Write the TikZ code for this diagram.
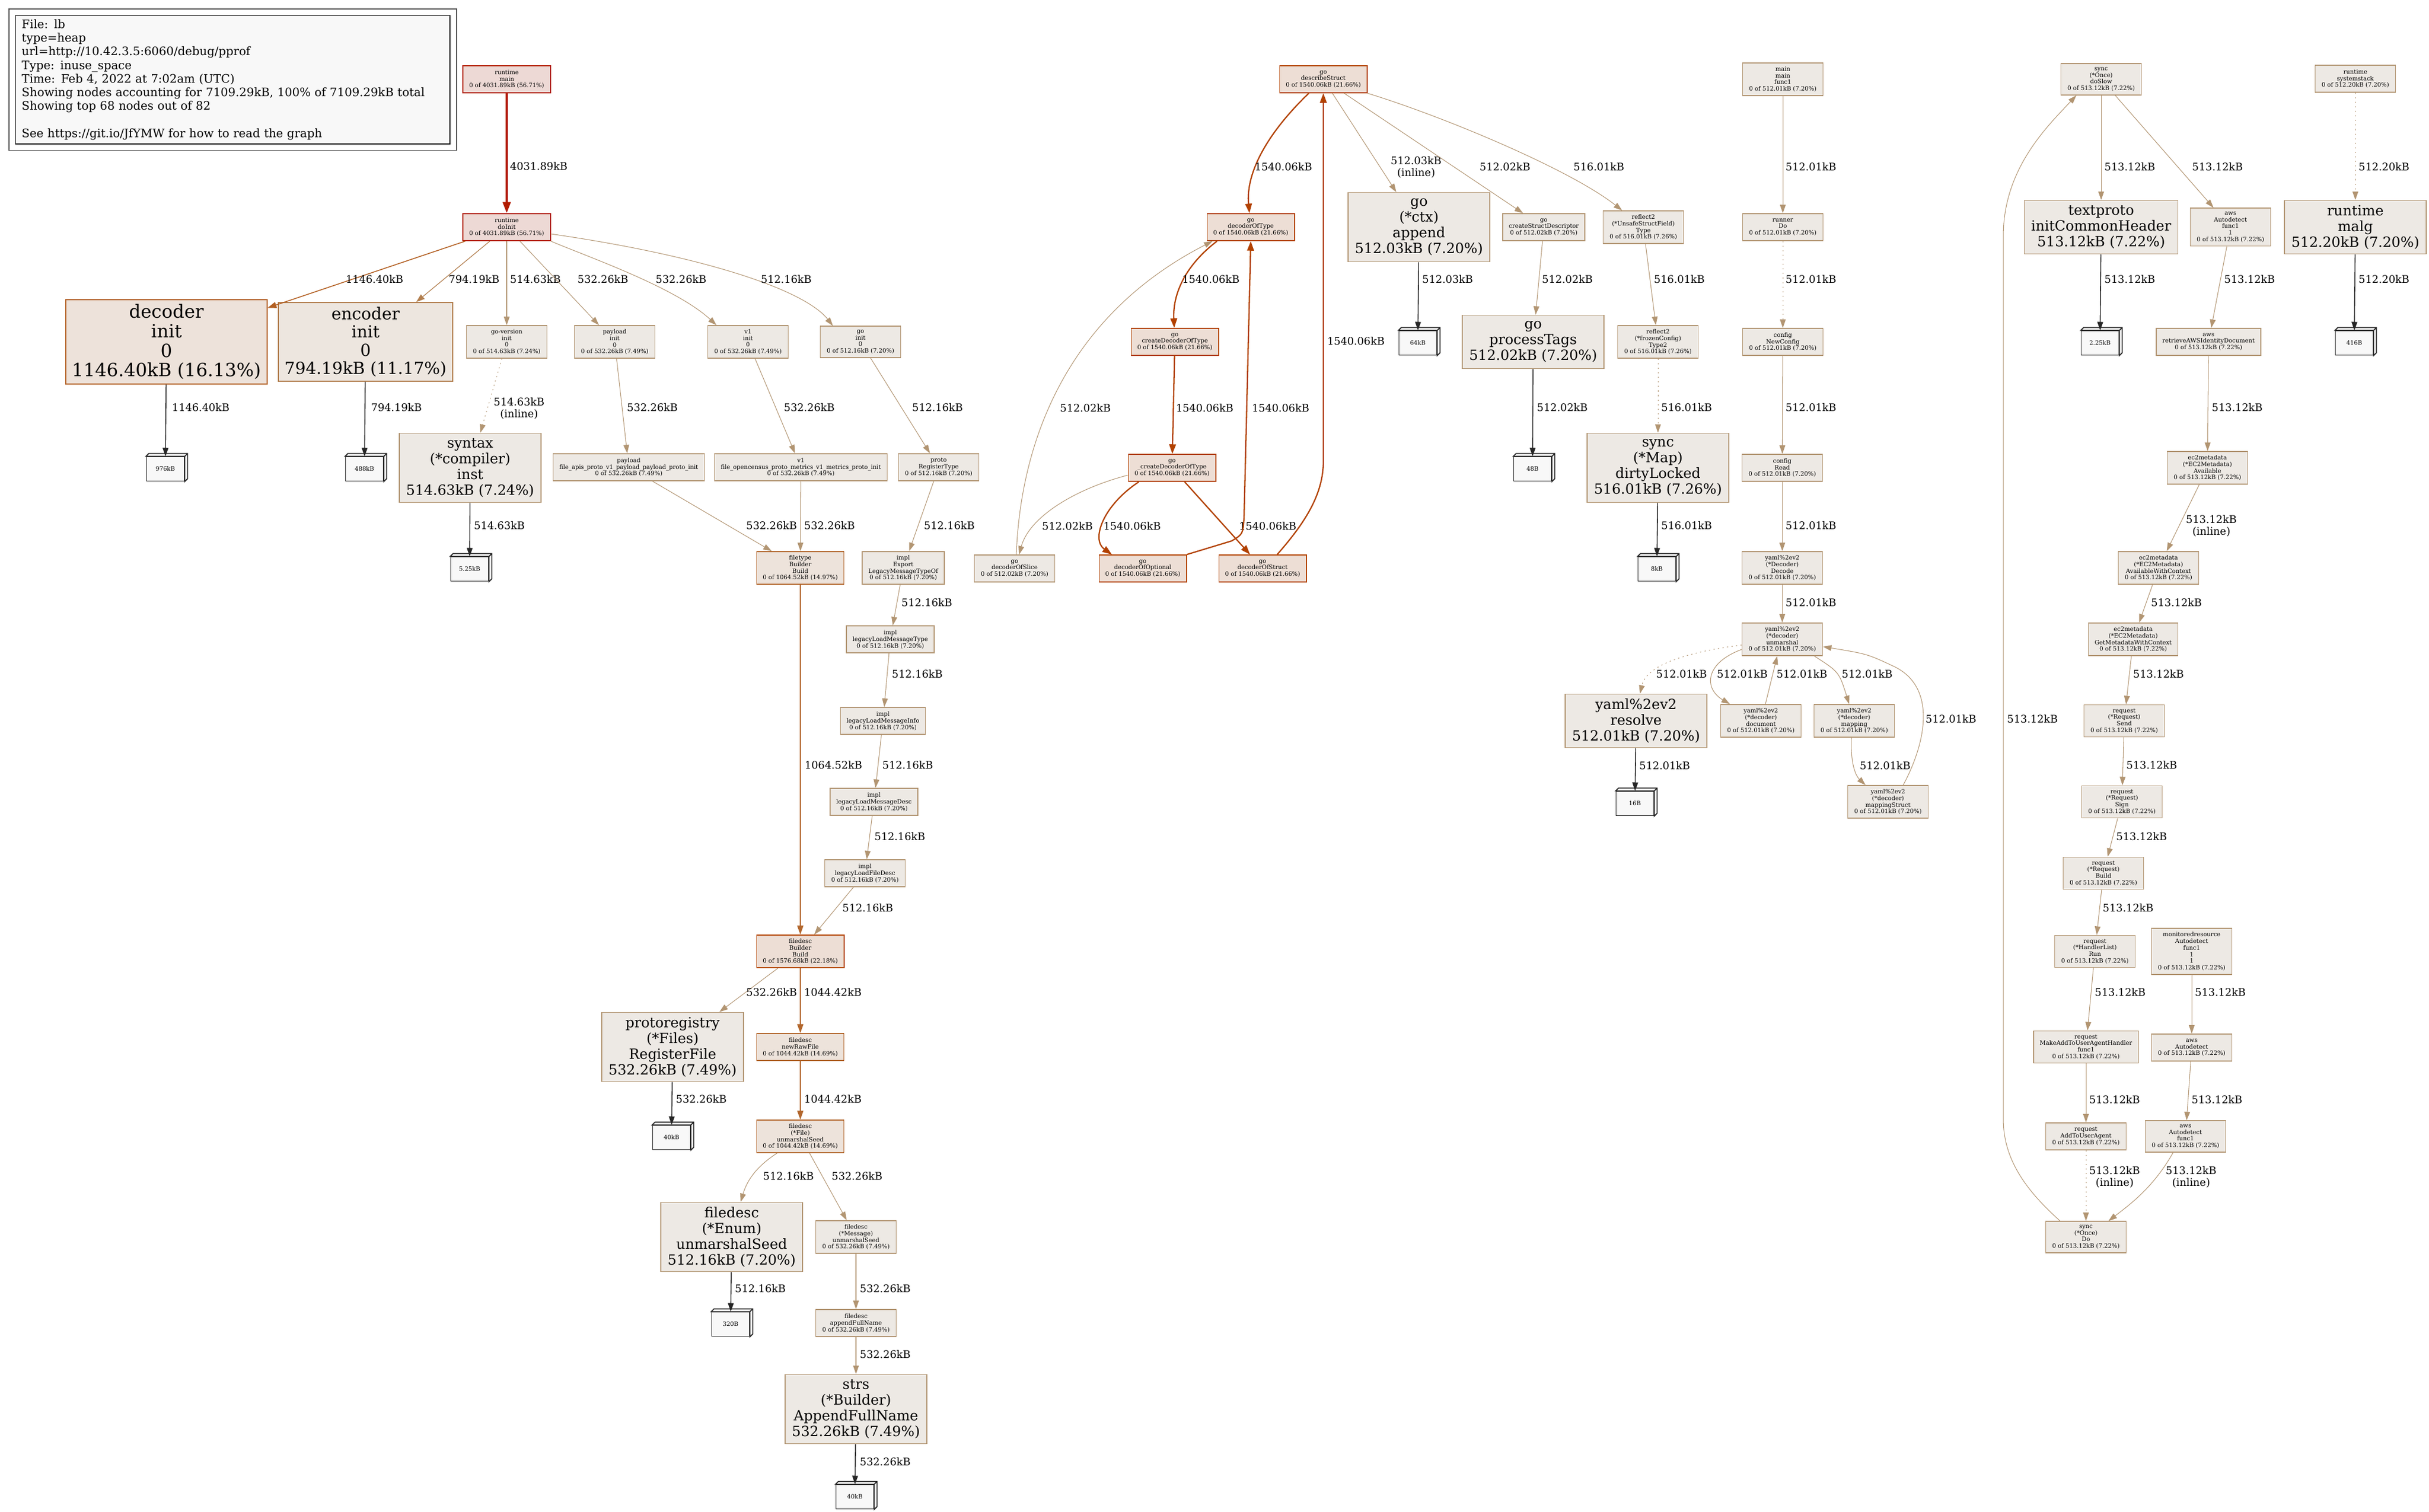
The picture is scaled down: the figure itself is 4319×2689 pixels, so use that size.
\documentclass[tikz,border=0pt]{standalone}
\usepackage{fontspec}
\setmainfont{DejaVu Serif}
\usetikzlibrary{arrows.meta}
\definecolor{fillLow}{HTML}{EDE9E4}
\definecolor{lineLow}{HTML}{B29572}
\definecolor{fillMid}{HTML}{EDE6DF}
\definecolor{lineMid}{HTML}{B27E4E}
\definecolor{fillWarm}{HTML}{EDE3DB}
\definecolor{lineWarm}{HTML}{B2662C}
\definecolor{fillDec}{HTML}{EDE2DA}
\definecolor{lineDec}{HTML}{B25F22}
\definecolor{fillHot}{HTML}{EDDED5}
\definecolor{lineHot}{HTML}{B24100}
\definecolor{fillTop}{HTML}{EDD9D5}
\definecolor{lineTop}{HTML}{B21B00}
\definecolor{legendFill}{HTML}{F8F8F8}
\definecolor{allocFill}{HTML}{F8F8F8}
\newcommand{\fsm}{\fontsize{3}{3.36}\selectfont}
\newcommand{\fbg}{\fontsize{7.1}{8}\selectfont}
\newcommand{\fel}{\fontsize{5.3}{6}\selectfont}
\newcommand{\flg}{\fontsize{5.9}{6.9}\selectfont}
\newcommand{\fdec}{\fontsize{9.2}{9.9}\selectfont}
\newcommand{\fenc}{\fontsize{8.4}{9.2}\selectfont}

\begin{document}
\begin{tikzpicture}[x=0.01cm, y=-0.01cm,
    fn/.style={rectangle, draw=lineLow, fill=fillLow, line width=0.42pt, align=center, font=\fsm,
        inner xsep=1.1mm, inner ysep=0.65mm, minimum width=14.3mm, minimum height=4.8mm},
    bigfn/.style={fn, font=\fbg, inner xsep=1.2mm, minimum width=25.2mm, minimum height=9.5mm},
    fourline/.style={minimum height=12.3mm},
    mid/.style={draw=lineMid, fill=fillMid},
    warm/.style={draw=lineWarm, fill=fillWarm},
    dec/.style={draw=lineDec, fill=fillDec},
    hot/.style={draw=lineHot, fill=fillHot, line width=0.5pt},
    hottest/.style={draw=lineTop, fill=fillTop, line width=0.5pt},
    alloc/.style={rectangle, draw=black!85, fill=allocFill, line width=0.5pt, font=\fsm,
        minimum width=6.7mm, minimum height=4.3mm, inner sep=0pt},
    allocface/.style={draw=black!85, fill=allocFill, line width=0.5pt},
    legend/.style={rectangle, draw=black, fill=legendFill, line width=0.4pt, font=\flg, align=left,
        text width=75mm, inner xsep=1.1mm, inner ysep=0.6mm, minimum height=22.8mm},
    lbl/.style={font=\fel, align=center, inner sep=0pt},
    edgelow/.style={draw=lineLow, line width=0.3pt, -{Triangle[length=4.3pt,width=2.9pt]}},
    edgemid/.style={draw=lineMid, line width=0.35pt, -{Triangle[length=4.3pt,width=2.9pt]}},
    edgewarm/.style={draw=lineWarm, line width=0.45pt, -{Triangle[length=4.5pt,width=3.1pt]}},
    edgedec/.style={draw=lineDec, line width=0.45pt, -{Triangle[length=4.5pt,width=3.1pt]}},
    edgehot/.style={draw=lineHot, line width=0.65pt, -{Triangle[length=4.8pt,width=3.4pt]}},
    edgetop/.style={draw=lineTop, line width=0.95pt, -{Triangle[length=5.6pt,width=4pt]}},
    edgeblk/.style={draw=black!85, line width=0.45pt, -{Triangle[length=4.3pt,width=2.9pt]}},
    inl/.style={dash pattern=on 0.6pt off 1.7pt}
]
\useasboundingbox[fill=white] (0,0) rectangle (4319,2689);

\node[legend, anchor=north west] (legend) at (27,27) {File: lb\\type=heap\\url=http://10.42.3.5:6060/debug/pprof\\Type: inuse\_space\\Time: Feb 4, 2022 at 7:02am (UTC)\\Showing nodes accounting for 7109.29kB, 100\% of 7109.29kB total\\Showing top 68 nodes out of 82\\\mbox{}\\See https://git.io/JfYMW for how to read the graph};
\draw[black!70, line width=0.5pt] ([shift={(-11,-11)}]legend.north west) rectangle ([shift={(11,11)}]legend.south east);

\node[fn, hottest] (rtMain) at (901,141) {runtime\\main\\0 of 4031.89kB (56.71\%)};
\node[fn, hottest] (rtInit) at (901,404) {runtime\\doInit\\0 of 4031.89kB (56.71\%)};
\node[fn, dec, font=\fdec, minimum width=35mm, minimum height=15mm] (decInit) at (296,608) {decoder\\init\\0\\1146.40kB (16.13\%)};
\node[fn, mid, font=\fenc, minimum width=31mm, minimum height=14mm] (encInit) at (650,608) {encoder\\init\\0\\794.19kB (11.17\%)};
\node[fn] (gvInit) at (901,608) {go-version\\init\\0\\0 of 514.63kB (7.24\%)};
\node[fn] (plInit) at (1093,608) {payload\\init\\0\\0 of 532.26kB (7.49\%)};
\node[fn] (v1Init) at (1330,608) {v1\\init\\0\\0 of 532.26kB (7.49\%)};
\node[fn] (goInit) at (1530,608) {go\\init\\0\\0 of 512.16kB (7.20\%)};
\node[bigfn, fourline] (synInst) at (836,832) {syntax\\(*compiler)\\inst\\514.63kB (7.24\%)};
\node[fn] (plFile) at (1118,831) {payload\\file\_apis\_proto\_v1\_payload\_payload\_proto\_init\\0 of 532.26kB (7.49\%)};
\node[fn] (v1File) at (1424,831) {v1\\file\_opencensus\_proto\_metrics\_v1\_metrics\_proto\_init\\0 of 532.26kB (7.49\%)};
\node[fn] (protoReg) at (1669,831) {proto\\RegisterType\\0 of 512.16kB (7.20\%)};
\node[fn, warm] (ftBuild) at (1423,1010) {filetype\\Builder\\Build\\0 of 1064.52kB (14.97\%)};
\node[fn] (implExport) at (1606,1010) {impl\\Export\\LegacyMessageTypeOf\\0 of 512.16kB (7.20\%)};
\node[fn] (implLMT) at (1583,1137) {impl\\legacyLoadMessageType\\0 of 512.16kB (7.20\%)};
\node[fn] (implLMI) at (1570,1282) {impl\\legacyLoadMessageInfo\\0 of 512.16kB (7.20\%)};
\node[fn] (implLMD) at (1554,1426) {impl\\legacyLoadMessageDesc\\0 of 512.16kB (7.20\%)};
\node[fn] (implLFD) at (1538,1553) {impl\\legacyLoadFileDesc\\0 of 512.16kB (7.20\%)};
\node[fn, hot] (fdBuild) at (1423,1692) {filedesc\\Builder\\Build\\0 of 1576.68kB (22.18\%)};
\node[bigfn, fourline] (pregFile) at (1196,1862) {protoregistry\\(*Files)\\RegisterFile\\532.26kB (7.49\%)};
\node[fn, warm] (fdRaw) at (1423,1862) {filedesc\\newRawFile\\0 of 1044.42kB (14.69\%)};
\node[fn, warm] (fdFile) at (1423,2021) {filedesc\\(*File)\\unmarshalSeed\\0 of 1044.42kB (14.69\%)};
\node[bigfn, fourline] (fdEnum) at (1301,2200) {filedesc\\(*Enum)\\unmarshalSeed\\512.16kB (7.20\%)};
\node[fn] (fdMsg) at (1522,2200) {filedesc\\(*Message)\\unmarshalSeed\\0 of 532.26kB (7.49\%)};
\node[fn] (fdAppend) at (1522,2353) {filedesc\\appendFullName\\0 of 532.26kB (7.49\%)};
\node[bigfn, fourline] (strsAppend) at (1522,2506) {strs\\(*Builder)\\AppendFullName\\532.26kB (7.49\%)};

\node[fn, hot] (dStruct) at (2353,141) {go\\describeStruct\\0 of 1540.06kB (21.66\%)};
\node[fn, hot] (dOfType) at (2224,404) {go\\decoderOfType\\0 of 1540.06kB (21.66\%)};
\node[bigfn, fourline] (ctxAppend) at (2523,404) {go\\(*ctx)\\append\\512.03kB (7.20\%)};
\node[fn] (cStructDesc) at (2745,404) {go\\createStructDescriptor\\0 of 512.02kB (7.20\%)};
\node[fn] (rUnsafeType) at (2922,404) {reflect2\\(*UnsafeStructField)\\Type\\0 of 516.01kB (7.26\%)};
\node[fn, hot] (cDecOfType) at (2089,608) {go\\createDecoderOfType\\0 of 1540.06kB (21.66\%)};
\node[bigfn] (procTags) at (2726,608) {go\\processTags\\512.02kB (7.20\%)};
\node[fn] (rFrozenType) at (2948,608) {reflect2\\(*frozenConfig)\\Type2\\0 of 516.01kB (7.26\%)};
\node[fn, hot] (cDecOfTypeU) at (2084,832) {go\\\_createDecoderOfType\\0 of 1540.06kB (21.66\%)};
\node[bigfn, fourline] (syncDirty) at (2948,832) {sync\\(*Map)\\dirtyLocked\\516.01kB (7.26\%)};
\node[fn] (dOfSlice) at (1804,1011) {go\\decoderOfSlice\\0 of 512.02kB (7.20\%)};
\node[fn, hot] (dOfOptional) at (2032,1011) {go\\decoderOfOptional\\0 of 1540.06kB (21.66\%)};
\node[fn, hot] (dOfStruct) at (2245,1011) {go\\decoderOfStruct\\0 of 1540.06kB (21.66\%)};

\node[fn] (mainFunc) at (3170,141) {main\\main\\func1\\0 of 512.01kB (7.20\%)};
\node[fn] (runnerDo) at (3170,404) {runner\\Do\\0 of 512.01kB (7.20\%)};
\node[fn] (cfgNew) at (3170,608) {config\\NewConfig\\0 of 512.01kB (7.20\%)};
\node[fn] (cfgRead) at (3169,832) {config\\Read\\0 of 512.01kB (7.20\%)};
\node[fn] (yDecode) at (3169,1010) {yaml\%2ev2\\(*Decoder)\\Decode\\0 of 512.01kB (7.20\%)};
\node[fn] (yUnmarshal) at (3169,1137) {yaml\%2ev2\\(*decoder)\\unmarshal\\0 of 512.01kB (7.20\%)};
\node[bigfn] (yResolve) at (2909,1282) {yaml\%2ev2\\resolve\\512.01kB (7.20\%)};
\node[fn] (yDocument) at (3131,1282) {yaml\%2ev2\\(*decoder)\\document\\0 of 512.01kB (7.20\%)};
\node[fn] (yMapping) at (3297,1282) {yaml\%2ev2\\(*decoder)\\mapping\\0 of 512.01kB (7.20\%)};
\node[fn] (yMapStruct) at (3357,1426) {yaml\%2ev2\\(*decoder)\\mappingStruct\\0 of 512.01kB (7.20\%)};

\node[fn] (onceSlow) at (3736,141) {sync\\(*Once)\\doSlow\\0 of 513.12kB (7.22\%)};
\node[fn] (rtStack) at (4188,140) {runtime\\systemstack\\0 of 512.20kB (7.20\%)};
\node[bigfn] (tpHeader) at (3736,404) {textproto\\initCommonHeader\\513.12kB (7.22\%)};
\node[fn] (awsFuncA) at (3966,404) {aws\\Autodetect\\func1\\1\\0 of 513.12kB (7.22\%)};
\node[bigfn] (rtMalg) at (4188,404) {runtime\\malg\\512.20kB (7.20\%)};
\node[fn] (awsRetrieve) at (3927,608) {aws\\retrieveAWSIdentityDocument\\0 of 513.12kB (7.22\%)};
\node[fn] (ecAvail) at (3925,832) {ec2metadata\\(*EC2Metadata)\\Available\\0 of 513.12kB (7.22\%)};
\node[fn] (ecAvailCtx) at (3838,1010) {ec2metadata\\(*EC2Metadata)\\AvailableWithContext\\0 of 513.12kB (7.22\%)};
\node[fn] (ecGetMeta) at (3793,1137) {ec2metadata\\(*EC2Metadata)\\GetMetadataWithContext\\0 of 513.12kB (7.22\%)};
\node[fn] (reqSend) at (3777,1282) {request\\(*Request)\\Send\\0 of 513.12kB (7.22\%)};
\node[fn] (reqSign) at (3773,1426) {request\\(*Request)\\Sign\\0 of 513.12kB (7.22\%)};
\node[fn] (reqBuild) at (3740,1553) {request\\(*Request)\\Build\\0 of 513.12kB (7.22\%)};
\node[fn] (reqRun) at (3725,1692) {request\\(*HandlerList)\\Run\\0 of 513.12kB (7.22\%)};
\node[fn] (monAuto) at (3897,1692) {monitoredresource\\Autodetect\\func1\\1\\1\\0 of 513.12kB (7.22\%)};
\node[fn] (reqMakeUA) at (3709,1862) {request\\MakeAddToUserAgentHandler\\func1\\0 of 513.12kB (7.22\%)};
\node[fn] (awsAuto) at (3897,1863) {aws\\Autodetect\\0 of 513.12kB (7.22\%)};
\node[fn] (reqAddUA) at (3709,2021) {request\\AddToUserAgent\\0 of 513.12kB (7.22\%)};
\node[fn] (awsFuncB) at (3886,2021) {aws\\Autodetect\\func1\\0 of 513.12kB (7.22\%)};
\node[fn] (onceDo) at (3709,2200) {sync\\(*Once)\\Do\\0 of 513.12kB (7.22\%)};

\node[alloc] (a976) at (294,834) {976kB};
\node[alloc] (a488) at (648,834) {488kB};
\node[alloc] (a525) at (835,1012) {5.25kB};
\node[alloc] (a40a) at (1194,2023) {40kB};
\node[alloc] (a320) at (1299,2355) {320B};
\node[alloc] (a40b) at (1520,2662) {40kB};
\node[alloc] (a64) at (2521,610) {64kB};
\node[alloc] (a48) at (2725,834) {48B};
\node[alloc] (a8k) at (2946,1012) {8kB};
\node[alloc] (a16) at (2907,1429) {16B};
\node[alloc] (a225) at (3734,610) {2.25kB};
\node[alloc] (a416) at (4186,610) {416B};
\foreach \b in {a976,a488,a525,a40a,a320,a40b,a64,a48,a8k,a16,a225,a416}
    \filldraw[allocface] (\b.north west) -- ++(5,-5) -- ([shift={(5,-5)}]\b.north east)
        -- ([shift={(5,-5)}]\b.south east) -- (\b.south east) -- (\b.north east) -- cycle
        (\b.north east) -- ++(5,-5);

\draw[edgetop] (rtMain) -- (rtInit) node[lbl] (l-main) at (958,296) {4031.89kB};
\draw[edgedec] (rtInit) -- (decInit) node[lbl] (l-dec) at (666,497) {1146.40kB};
\draw[edgemid] (rtInit) -- ([xshift=9mm]encInit.north) node[lbl] (l-enc) at (843,497) {794.19kB};
\draw[edgelow] (rtInit) -- (gvInit) node[lbl] (l-gv) at (952,497) {514.63kB};
\draw[edgelow] (rtInit) -- (plInit) node[lbl] (l-pl) at (1072,497) {532.26kB};
\draw[edgelow] (rtInit.south east) .. controls (1040,455) and (1200,510) .. ([xshift=-5.6mm]v1Init.north) node[lbl] (l-v1) at (1211,497) {532.26kB};
\draw[edgelow] ([yshift=-1.2mm]rtInit.east) .. controls (1250,455) and (1430,515) .. ([xshift=-4.9mm]goInit.north) node[lbl] (l-go) at (1398,497) {512.16kB};
\draw[edgelow, inl] (gvInit) -- (synInst) node[lbl] (l-syn) at (923,726) {514.63kB\\(inline)};
\draw[edgeblk] (synInst) -- (a525) node[lbl] (l-a525) at (888,935) {514.63kB};
\draw[edgeblk] (decInit) -- (a976) node[lbl] (l-a976) at (357,725) {1146.40kB};
\draw[edgeblk] (encInit) -- (a488) node[lbl] (l-a488) at (705,725) {794.19kB};
\draw[edgelow] (plInit) -- (plFile) node[lbl] (l-plf) at (1160,725) {532.26kB};
\draw[edgelow] (v1Init) -- (v1File) node[lbl] (l-v1f) at (1439,725) {532.26kB};
\draw[edgelow] (goInit) -- (protoReg) node[lbl] (l-preg) at (1667,725) {512.16kB};
\draw[edgelow] (plFile) -- (ftBuild) node[lbl] (l-ft1) at (1372,935) {532.26kB};
\draw[edgelow] (v1File) -- (ftBuild) node[lbl] (l-ft2) at (1475,935) {532.26kB};
\draw[edgelow] (protoReg) -- (implExport) node[lbl] (l-exp) at (1688,935) {512.16kB};
\draw[edgelow] (implExport) -- (implLMT) node[lbl] (l-lmt) at (1648,1072) {512.16kB};
\draw[edgelow] (implLMT) -- (implLMI) node[lbl] (l-lmi) at (1631,1199) {512.16kB};
\draw[edgelow] (implLMI) -- (implLMD) node[lbl] (l-lmd) at (1614,1361) {512.16kB};
\draw[edgelow] (implLMD) -- (implLFD) node[lbl] (l-lfd) at (1600,1488) {512.16kB};
\draw[edgelow] (implLFD) -- (fdBuild) node[lbl] (l-fdb) at (1543,1615) {512.16kB};
\draw[edgewarm] (ftBuild) -- (fdBuild) node[lbl] (l-ftfd) at (1482,1361) {1064.52kB};
\draw[edgelow] (fdBuild) -- (pregFile) node[lbl] (l-reg) at (1372,1765) {532.26kB};
\draw[edgewarm] (fdBuild) -- (fdRaw) node[lbl] (l-raw) at (1481,1765) {1044.42kB};
\draw[edgeblk] (pregFile) -- (a40a) node[lbl] (l-a40a) at (1247,1955) {532.26kB};
\draw[edgewarm] (fdRaw) -- (fdFile) node[lbl] (l-file) at (1481,1955) {1044.42kB};
\draw[edgelow] (fdFile) to[bend right=20] (fdEnum) node[lbl] (l-enum) at (1402,2092) {512.16kB};
\draw[edgelow] (fdFile) -- (fdMsg) node[lbl] (l-msg) at (1524,2092) {532.26kB};
\draw[edgeblk] (fdEnum) -- (a320) node[lbl] (l-a320) at (1352,2292) {512.16kB};
\draw[edgelow] (fdMsg) -- (fdAppend) node[lbl] (l-app) at (1574,2292) {532.26kB};
\draw[edgelow] (fdAppend) -- (strsAppend) node[lbl] (l-strs) at (1574,2409) {532.26kB};
\draw[edgeblk] (strsAppend) -- (a40b) node[lbl] (l-a40b) at (1574,2600) {532.26kB};

\draw[edgehot] (dStruct) .. controls (2250,240) and (2215,310) .. (dOfType) node[lbl] (l-dot) at (2282,297) {1540.06kB};
\draw[edgehot] ([xshift=-6mm]dOfType.south) .. controls (2110,470) and (2085,520) .. (cDecOfType) node[lbl] (l-cdot) at (2153,497) {1540.06kB};
\draw[edgehot] (cDecOfType) -- (cDecOfTypeU) node[lbl] (l-cdotu) at (2142,726) {1540.06kB};
\draw[edgehot] ([xshift=-5.9mm]cDecOfTypeU.south) .. controls (1960,900) and (1940,960) .. ([xshift=-5.5mm]dOfOptional.north) node[lbl] (l-opt) at (2013,936) {1540.06kB};
\draw[edgehot] (cDecOfTypeU) -- (dOfStruct) node[lbl] (l-str) at (2254,936) {1540.06kB};
\draw[edgelow] ([yshift=-1.3mm]cDecOfTypeU.west) .. controls (1910,870) and (1830,920) .. ([xshift=0.8mm]dOfSlice.north) node[lbl] (l-sl) at (1898,936) {512.02kB};
\draw[edgelow] ([xshift=0.3mm]dOfSlice.north) .. controls (1815,780) and (1900,560) .. ([xshift=-6.8mm]dOfType.south) node[lbl] (l-slt) at (1930,726) {512.02kB};
\draw[edgehot] (dOfOptional.north east) -- (2190,962) .. controls (2210,950) .. (2212,920) -- (dOfType.south) node[lbl] (l-optt) at (2277,726) {1540.06kB};
\draw[edgehot] ([xshift=2.6mm]dOfStruct.north) .. controls (2320,930) and (2353,880) .. (2353,820) -- (dStruct.south) node[lbl] (l-strd) at (2411,607) {1540.06kB};
\draw[edgelow] (dStruct) -- (ctxAppend) node[lbl] (l-ctx) at (2518,297) {512.03kB\\(inline)};
\draw[edgelow] (dStruct) -- (cStructDesc) node[lbl] (l-csd) at (2676,297) {512.02kB};
\draw[edgelow] (dStruct.south east) .. controls (2560,205) and (2790,300) .. (rUnsafeType) node[lbl] (l-rut) at (2843,297) {516.01kB};
\draw[edgeblk] (ctxAppend) -- (a64) node[lbl] (l-a64) at (2574,497) {512.03kB};
\draw[edgelow] (cStructDesc) -- (procTags) node[lbl] (l-ptag) at (2787,497) {512.02kB};
\draw[edgeblk] (procTags) -- (a48) node[lbl] (l-a48) at (2778,725) {512.02kB};
\draw[edgelow] (rUnsafeType) -- (rFrozenType) node[lbl] (l-rft) at (2986,497) {516.01kB};
\draw[edgelow, inl] (rFrozenType) -- (syncDirty) node[lbl] (l-dirty) at (2999,725) {516.01kB};
\draw[edgeblk] (syncDirty) -- (a8k) node[lbl] (l-a8k) at (2999,935) {516.01kB};

\draw[edgelow] (mainFunc) -- (runnerDo) node[lbl] (l-run) at (3220,297) {512.01kB};
\draw[edgelow, inl] (runnerDo) -- (cfgNew) node[lbl] (l-new) at (3220,497) {512.01kB};
\draw[edgelow] (cfgNew) -- (cfgRead) node[lbl] (l-read) at (3220,725) {512.01kB};
\draw[edgelow] (cfgRead) -- (yDecode) node[lbl] (l-decode) at (3220,935) {512.01kB};
\draw[edgelow] (yDecode) -- (yUnmarshal) node[lbl] (l-unm) at (3220,1072) {512.01kB};
\draw[edgelow, inl] ([yshift=-1mm]yUnmarshal.west) .. controls (2960,1165) and (2925,1195) .. ([xshift=0.7mm]yResolve.north) node[lbl] (l-res) at (2990,1199) {512.01kB};
\draw[edgelow] ([yshift=-1.8mm]yUnmarshal.west) .. controls (3030,1180) and (3030,1225) .. ([xshift=-5.5mm]yDocument.north) node[lbl] (l-doc) at (3098,1199) {512.01kB};
\draw[edgelow] ([xshift=0.8mm]yDocument.north) -- ([xshift=-0.9mm]yUnmarshal.south) node[lbl] (l-docu) at (3204,1199) {512.01kB};
\draw[edgelow] ([xshift=5.7mm]yUnmarshal.south) .. controls (3270,1195) .. ([xshift=-0.9mm]yMapping.north) node[lbl] (l-map) at (3320,1199) {512.01kB};
\draw[edgelow] ([xshift=-0.5mm]yMapping.south) .. controls (3290,1360) and (3300,1380) .. ([xshift=-4mm]yMapStruct.north) node[lbl] (l-maps) at (3352,1362) {512.01kB};
\draw[edgelow] ([xshift=2.7mm]yMapStruct.north) .. controls (3425,1320) and (3445,1220) .. (3365,1184) .. controls (3320,1163) .. ([yshift=-1.3mm]yUnmarshal.east) node[lbl] (l-mapu) at (3469,1279) {512.01kB};
\draw[edgeblk] (yResolve) -- (a16) node[lbl] (l-a16) at (2960,1362) {512.01kB};

\draw[edgelow] (onceSlow) -- (tpHeader) node[lbl] (l-tp) at (3787,297) {513.12kB};
\draw[edgelow] (onceSlow) -- (awsFuncA) node[lbl] (l-awsa) at (3943,297) {513.12kB};
\draw[edgelow, inl] (rtStack) -- (rtMalg) node[lbl] (l-malg) at (4239,297) {512.20kB};
\draw[edgeblk] (tpHeader) -- (a225) node[lbl] (l-a225) at (3787,497) {513.12kB};
\draw[edgelow] (awsFuncA) -- (awsRetrieve) node[lbl] (l-ret) at (4000,497) {513.12kB};
\draw[edgeblk] (rtMalg) -- (a416) node[lbl] (l-a416) at (4239,497) {512.20kB};
\draw[edgelow] (awsRetrieve) -- (ecAvail) node[lbl] (l-av) at (3978,725) {513.12kB};
\draw[edgelow] (ecAvail) -- (ecAvailCtx) node[lbl] (l-avc) at (3932,935) {513.12kB\\(inline)};
\draw[edgelow] (ecAvailCtx) -- (ecGetMeta) node[lbl] (l-gm) at (3870,1072) {513.12kB};
\draw[edgelow] (ecGetMeta) -- (reqSend) node[lbl] (l-send) at (3838,1199) {513.12kB};
\draw[edgelow] (reqSend) -- (reqSign) node[lbl] (l-sign) at (3826,1361) {513.12kB};
\draw[edgelow] (reqSign) -- (reqBuild) node[lbl] (l-build) at (3808,1488) {513.12kB};
\draw[edgelow] (reqBuild) -- (reqRun) node[lbl] (l-runh) at (3784,1615) {513.12kB};
\draw[edgelow] (reqRun) -- (reqMakeUA) node[lbl] (l-mkua) at (3770,1765) {513.12kB};
\draw[edgelow] (monAuto) -- (awsAuto) node[lbl] (l-auto) at (3948,1765) {513.12kB};
\draw[edgelow] (reqMakeUA) -- (reqAddUA) node[lbl] (l-addua) at (3760,1956) {513.12kB};
\draw[edgelow] (awsAuto) -- (awsFuncB) node[lbl] (l-awsb) at (3942,1956) {513.12kB};
\draw[edgelow, inl] (reqAddUA) -- (onceDo) node[lbl] (l-do1) at (3760,2093) {513.12kB\\(inline)};
\draw[edgelow] ([xshift=-2.2mm]awsFuncB.south) .. controls (3830,2110) and (3790,2140) .. ([xshift=4mm]onceDo.north) node[lbl] (l-do2) at (3896,2093) {513.12kB\\(inline)};
\draw[edgelow] ([xshift=-4.6mm]onceDo.north) .. controls (3600,2115) and (3562,2060) .. (3562,1990) -- (3562,420) .. controls (3562,300) and (3640,225) .. ([xshift=-4.4mm]onceSlow.south) node[lbl] (l-slow) at (3614,1279) {513.12kB};
\end{tikzpicture}
\end{document}
